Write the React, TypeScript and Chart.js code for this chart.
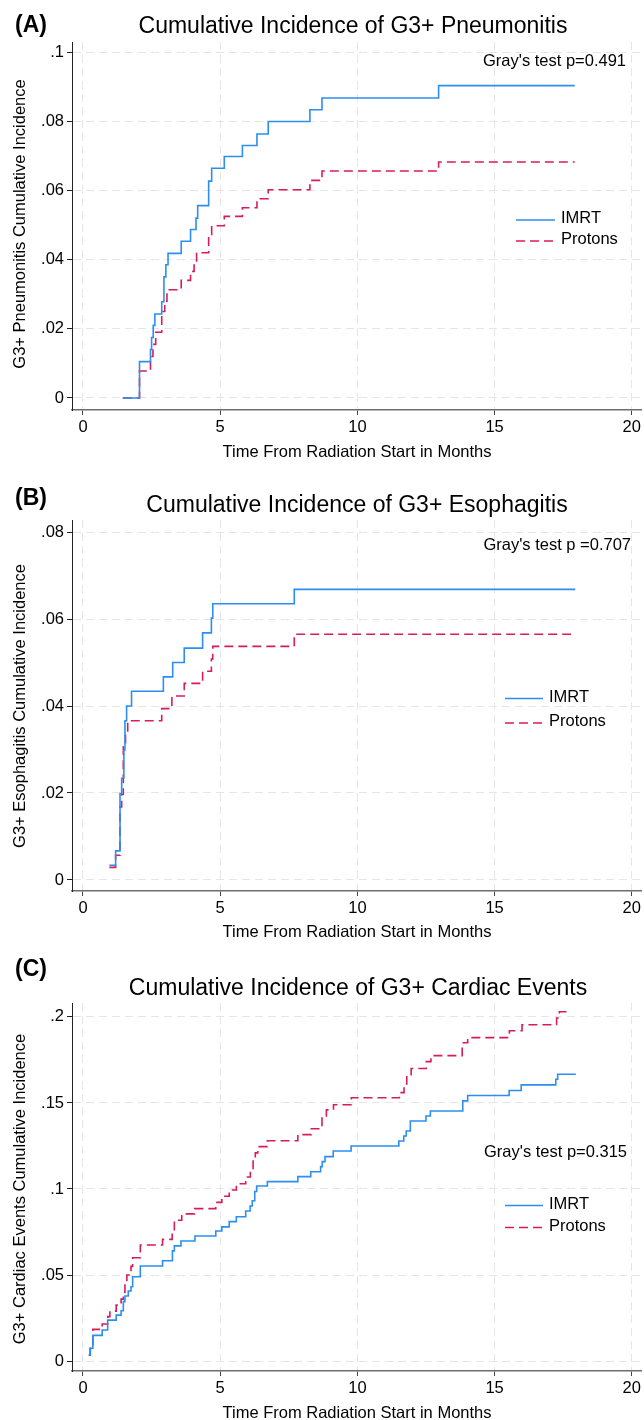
import React, { useEffect, useRef } from 'react';
import { Chart, registerables } from 'chart.js';

Chart.register(...registerables);

const FONT = '"Liberation Sans", Arial, Helvetica, sans-serif';
const IMRT_COLOR = '#2b8ef0';
const PROTON_COLOR = '#d81b5c';
const SERIES_NAMES = ['IMRT', 'Protons'];
const X_TITLE = 'Time From Radiation Start in Months';
const xTicks = [0, 5, 10, 15, 20];

// Panel A – Pneumonitis
const pneumYTicks = [0, 0.02, 0.04, 0.06, 0.08, 0.1];
const pneumImrtT = [1.45, 2.06, 2.46, 2.5, 2.56, 2.62, 2.87, 2.95, 3.02, 3.1, 3.58, 3.92, 4.12, 4.18, 4.58, 4.69, 5.15, 5.81, 6.34, 6.75, 8.27, 8.71, 12.96, 17.92];
const pneumImrtV = [0, 0.0105, 0.014, 0.0175, 0.021, 0.0243, 0.0278, 0.035, 0.0385, 0.0418, 0.0453, 0.0487, 0.052, 0.0556, 0.0627, 0.0664, 0.0698, 0.073, 0.0763, 0.0799, 0.0833, 0.0867, 0.0903, 0.0903];
const pneumProtT = [1.45, 2.06, 2.46, 2.55, 2.65, 2.87, 2.98, 3.06, 3.58, 3.92, 4.05, 4.14, 4.58, 4.69, 5.15, 5.81, 6.34, 6.75, 8.27, 8.71, 12.96, 17.92];
const pneumProtV = [0, 0.0078, 0.012, 0.0155, 0.019, 0.025, 0.028, 0.0313, 0.034, 0.0366, 0.039, 0.042, 0.0472, 0.0498, 0.0525, 0.055, 0.0576, 0.0602, 0.0629, 0.0656, 0.0682, 0.0682];

// Panel B – Esophagitis
const esoYTicks = [0, 0.02, 0.04, 0.06, 0.08];
const esoImrtT = [0.96, 1.19, 1.35, 1.41, 1.49, 1.53, 1.59, 1.77, 2.93, 3.27, 3.69, 4.36, 4.68, 4.73, 7.7, 17.94];
const esoImrtV = [0.0034, 0.0067, 0.0199, 0.0234, 0.0299, 0.0366, 0.04, 0.0434, 0.0467, 0.05, 0.0533, 0.0568, 0.0602, 0.0635, 0.0668, 0.0668];
const esoProtT = [0.96, 1.19, 1.35, 1.41, 1.47, 1.55, 1.63, 2.87, 3.24, 3.69, 4.36, 4.68, 4.73, 7.7, 17.94];
const esoProtV = [0.0029, 0.0057, 0.0168, 0.0197, 0.0306, 0.0338, 0.0366, 0.0394, 0.0423, 0.0452, 0.048, 0.0508, 0.0537, 0.0565, 0.0565];

// Panel C – Cardiac events
const cardYTicks = [0, 0.05, 0.1, 0.15, 0.2];
const cardImrtT = [0.21, 0.27, 0.36, 0.7, 0.9, 1.21, 1.39, 1.47, 1.53, 1.65, 1.75, 1.81, 2.09, 2.9, 3.26, 3.33, 3.57, 4.08, 4.84, 5.06, 5.33, 5.59, 5.93, 6.09, 6.17, 6.26, 6.33, 6.72, 7.83, 8.3, 8.66, 8.72, 8.82, 9.12, 9.77, 11.51, 11.69, 11.78, 11.93, 12.5, 12.66, 13.84, 14.02, 15.53, 15.97, 17.23, 17.3, 17.96];
const cardImrtV = [0.0035, 0.0074, 0.0149, 0.018, 0.0238, 0.0267, 0.0292, 0.0345, 0.0378, 0.0407, 0.0432, 0.049, 0.0552, 0.0583, 0.064, 0.0669, 0.0698, 0.0727, 0.0756, 0.078, 0.081, 0.0839, 0.0872, 0.0901, 0.0932, 0.0985, 0.1017, 0.1043, 0.1072, 0.11, 0.113, 0.1159, 0.1188, 0.1221, 0.125, 0.1279, 0.1308, 0.1337, 0.1395, 0.1424, 0.1453, 0.1512, 0.1543, 0.1572, 0.1605, 0.1638, 0.1667, 0.1667];
const cardProtT = [0.21, 0.26, 0.36, 0.7, 0.9, 0.98, 1.21, 1.39, 1.47, 1.53, 1.6, 1.75, 1.81, 2.09, 2.9, 3.25, 3.33, 3.6, 4.07, 4.84, 5.06, 5.33, 5.59, 5.93, 6.1, 6.2, 6.28, 6.37, 6.72, 7.83, 8.32, 8.71, 8.87, 9.13, 9.78, 11.53, 11.7, 11.8, 11.96, 12.51, 12.68, 13.82, 14.02, 15.54, 16.0, 17.26, 17.36, 17.8];
const cardProtV = [0.0035, 0.0074, 0.0184, 0.0215, 0.0258, 0.029, 0.0325, 0.036, 0.04, 0.046, 0.05, 0.055, 0.06, 0.0674, 0.0707, 0.0745, 0.0818, 0.0855, 0.0886, 0.0922, 0.0958, 0.0994, 0.103, 0.107, 0.111, 0.117, 0.121, 0.1246, 0.128, 0.1316, 0.135, 0.142, 0.146, 0.149, 0.153, 0.156, 0.161, 0.166, 0.17, 0.174, 0.1775, 0.185, 0.188, 0.192, 0.1955, 0.1994, 0.203, 0.203];

const toPoints = (t: number[], v: number[]) => t.map((x, i) => ({ x, y: v[i] }));

type PanelCfg = {
  top: number; height: number; plotTop: number; plotBottom: number;
  yMin: number; yMax: number; yTicks: number[];
  imrt: { x: number; y: number }[]; prot: { x: number; y: number }[];
  tag: string; tagBase: number; title: string; titleX: number; titleBase: number;
  yTitle: string; yTitleY: number; xTitleBase: number;
  gray: string; grayRight: number; grayCenter: number;
  legX1: number; legX2: number; legTextX: number; legY: number[];
};

const panels: PanelCfg[] = [
  {
    top: 0, height: 470, plotTop: 42, plotBottom: 410,
    yMin: -0.00347, yMax: 0.1029, yTicks: pneumYTicks,
    imrt: toPoints(pneumImrtT, pneumImrtV), prot: toPoints(pneumProtT, pneumProtV),
    tag: '(A)', tagBase: 32, title: 'Cumulative Incidence of G3+ Pneumonitis', titleX: 353, titleBase: 33,
    yTitle: 'G3+ Pneumonitis Cumulative Incidence', yTitleY: 224, xTitleBase: 457,
    gray: "Gray's test p=0.491", grayRight: 626, grayCenter: 60,
    legX1: 516, legX2: 555, legTextX: 561, legY: [217, 238],
  },
  {
    top: 475, height: 470, plotTop: 45, plotBottom: 416,
    yMin: -0.00253, yMax: 0.08276, yTicks: esoYTicks,
    imrt: toPoints(esoImrtT, esoImrtV), prot: toPoints(esoProtT, esoProtV),
    tag: '(B)', tagBase: 30, title: 'Cumulative Incidence of G3+ Esophagitis', titleX: 357, titleBase: 37,
    yTitle: 'G3+ Esophagitis Cumulative Incidence', yTitleY: 231, xTitleBase: 462,
    gray: "Gray's test p =0.707", grayRight: 631, grayCenter: 69,
    legX1: 505, legX2: 543, legTextX: 549, legY: [220.5, 245],
  },
  {
    top: 945, height: 475, plotTop: 58, plotBottom: 426,
    yMin: -0.0058, yMax: 0.2081, yTicks: cardYTicks,
    imrt: toPoints(cardImrtT, cardImrtV), prot: toPoints(cardProtT, cardProtV),
    tag: '(C)', tagBase: 31, title: 'Cumulative Incidence of G3+ Cardiac Events', titleX: 358, titleBase: 50,
    yTitle: 'G3+ Cardiac Events Cumulative Incidence', yTitleY: 244, xTitleBase: 472.5,
    gray: "Gray's test p=0.315", grayRight: 627, grayCenter: 205.5,
    legX1: 505, legX2: 543, legTextX: 549, legY: [257.5, 279.5],
  },
];

const fmtY = (v: number) => (v === 0 ? '0' : String(Number(v.toFixed(4))).replace(/^0/, ''));

function Panel({ cfg }: { cfg: PanelCfg }) {
  const ref = useRef<HTMLCanvasElement | null>(null);
  useEffect(() => {
    const canvas = ref.current;
    if (!canvas) return;
    const W = 644;
    const textPlugin = {
      id: 'panelText',
      afterDraw(chart: any) {
        const ctx = chart.ctx as CanvasRenderingContext2D;
        ctx.save();
        ctx.fillStyle = '#000';
        ctx.textBaseline = 'alphabetic';
        ctx.font = `bold 23px ${FONT}`;
        ctx.textAlign = 'left';
        ctx.fillText(cfg.tag, 15, cfg.tagBase);
        ctx.font = `23px ${FONT}`;
        ctx.textAlign = 'center';
        ctx.fillText(cfg.title, cfg.titleX, cfg.titleBase);
        ctx.font = `16.5px ${FONT}`;
        ctx.fillText(X_TITLE, 357, cfg.xTitleBase);
        ctx.textAlign = 'right';
        ctx.fillText(cfg.gray, cfg.grayRight, cfg.grayCenter + 6);
        ctx.save();
        ctx.translate(25, cfg.yTitleY);
        ctx.rotate(-Math.PI / 2);
        ctx.textAlign = 'center';
        ctx.fillText(cfg.yTitle, 0, 0);
        ctx.restore();
        // legend
        const colors = [IMRT_COLOR, PROTON_COLOR];
        SERIES_NAMES.forEach((name, i) => {
          const y = cfg.legY[i];
          ctx.save();
          ctx.strokeStyle = colors[i];
          ctx.lineWidth = 1.6;
          ctx.setLineDash(i === 1 ? [9, 5] : []);
          ctx.beginPath();
          ctx.moveTo(cfg.legX1, y + 3);
          ctx.lineTo(cfg.legX2, y + 3);
          ctx.stroke();
          ctx.restore();
          ctx.textAlign = 'left';
          ctx.fillText(name, cfg.legTextX, y + 6);
        });
        ctx.restore();
      },
    };
    const chart = new Chart(canvas, {
      type: 'line',
      data: {
        datasets: [
          {
            label: SERIES_NAMES[0], data: cfg.imrt, borderColor: IMRT_COLOR, borderWidth: 1.6,
            stepped: true, pointRadius: 0, fill: false,
          },
          {
            label: SERIES_NAMES[1], data: cfg.prot, borderColor: PROTON_COLOR, borderWidth: 1.6,
            borderDash: [9, 5], stepped: true, pointRadius: 0, fill: false,
          },
        ],
      },
      options: {
        responsive: false,
        animation: false,
        devicePixelRatio: 1,
        layout: { padding: { top: cfg.plotTop, right: 2, bottom: 0, left: 0 } },
        plugins: { legend: { display: false }, tooltip: { enabled: false }, title: { display: false } },
        scales: {
          x: {
            type: 'linear', min: -0.4, max: 20.36,
            afterBuildTicks: (s: any) => { s.ticks = xTicks.map((v) => ({ value: v })); },
            afterFit: (s: any) => { s.height = cfg.height - cfg.plotBottom; },
            ticks: {
              autoSkip: false, maxRotation: 0, padding: 3, color: '#000',
              font: { family: FONT, size: 16.5 },
              callback: (v: any) => String(v),
            },
            grid: { color: '#e6e6e6', lineWidth: 1, tickLength: 5, tickColor: '#444', tickWidth: 1 },
            border: { display: true, color: '#6e6e6e', width: 1.5, dash: [8, 5] },
          },
          y: {
            type: 'linear', min: cfg.yMin, max: cfg.yMax,
            afterBuildTicks: (s: any) => { s.ticks = cfg.yTicks.map((v) => ({ value: v })); },
            afterFit: (s: any) => { s.width = 72; },
            ticks: {
              autoSkip: false, padding: 3, color: '#000',
              font: { family: FONT, size: 16.5 },
              callback: (v: any) => fmtY(Number(v)),
            },
            grid: { color: '#e6e6e6', lineWidth: 1, tickLength: 5, tickColor: '#222', tickWidth: 1 },
            border: { display: true, color: '#222', width: 1, dash: [8, 5] },
          },
        },
      },
      plugins: [textPlugin],
    } as any);
    return () => chart.destroy();
  }, [cfg]);
  return (
    <canvas
      ref={ref}
      width={644}
      height={cfg.height}
      style={{ position: 'absolute', left: 0, top: cfg.top, width: 644, height: cfg.height }}
    />
  );
}

export default function App() {
  return (
    <div style={{ position: 'absolute', left: 0, top: 0, width: 644, height: 1420, background: '#fff', overflow: 'hidden' }}>
      {panels.map((p, i) => (
        <Panel key={i} cfg={p} />
      ))}
    </div>
  );
}
